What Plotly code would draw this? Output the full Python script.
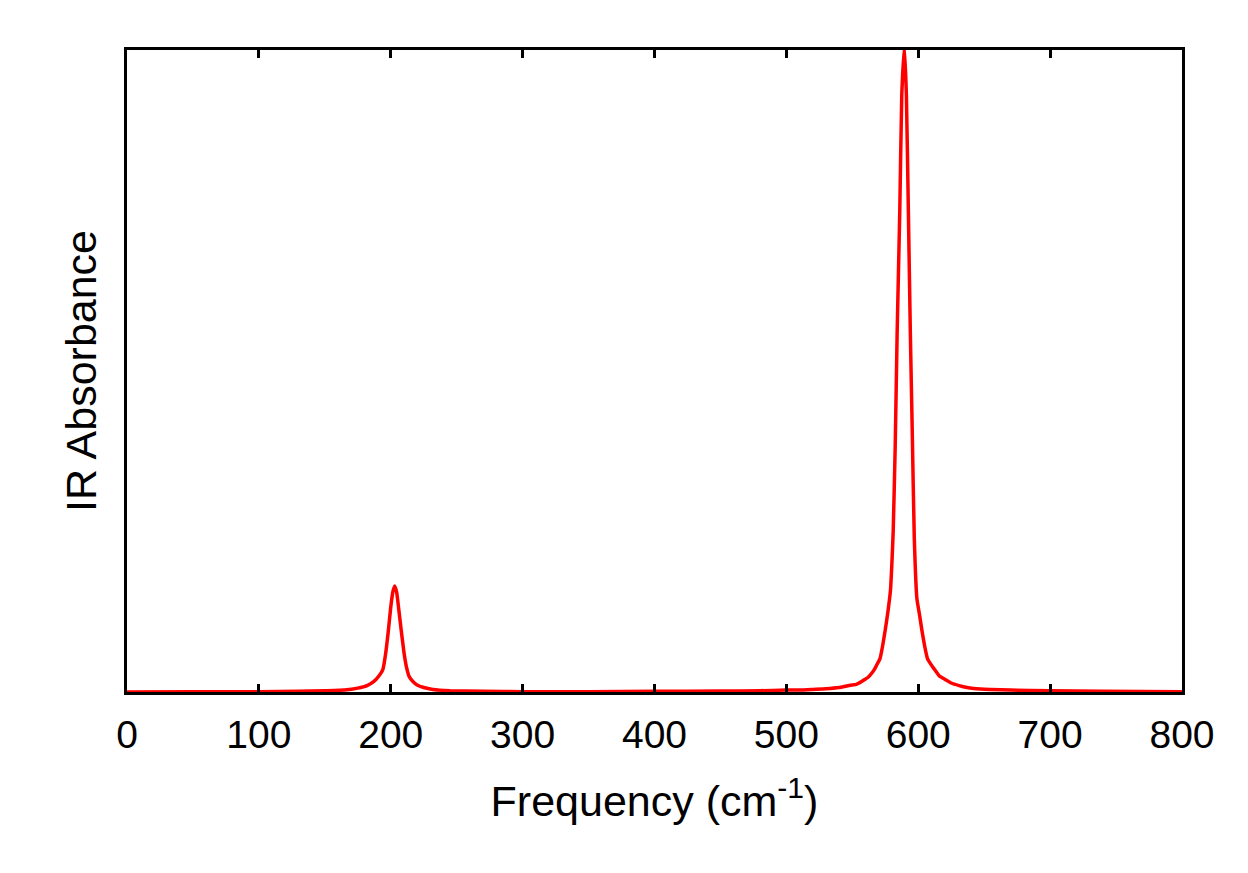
import plotly.graph_objects as go

# Frequencies (cm^-1) and IR absorbance
freq = [0, 50, 100, 130, 150, 165, 175, 182, 187, 191, 194, 196, 198, 200, 201.5, 203,
        204.5, 206, 208, 210, 212, 214, 217, 220, 225, 232, 245, 270, 300,
        350, 400, 450, 480, 500, 510, 520, 530, 540, 545, 550, 553, 556, 559, 562,
        565, 567, 569, 571, 573, 575, 577, 579, 580, 581, 582.5, 584, 586, 587.5,
        589.5, 591, 592.5, 594, 595.5, 597, 599, 601, 603, 605, 607, 609, 612,
        616, 620, 625, 631, 637, 644, 655, 670, 700, 740, 800]
absorb = [0.0, 0.0002, 0.0005, 0.001, 0.002, 0.003, 0.006, 0.010, 0.016, 0.025, 0.035, 0.058, 0.092, 0.132, 0.155, 0.165,
          0.155, 0.130, 0.095, 0.062, 0.038, 0.024, 0.016, 0.011, 0.007, 0.004, 0.002, 0.001, 0.0005,
          0.0004, 0.001, 0.0015, 0.002, 0.003, 0.003, 0.004, 0.005, 0.007, 0.009, 0.011, 0.012, 0.015, 0.019, 0.023,
          0.030, 0.036, 0.044, 0.052, 0.072, 0.097, 0.125, 0.160, 0.200, 0.250, 0.380, 0.560, 0.750, 0.930,
          1.005, 0.930, 0.750, 0.560, 0.400, 0.240, 0.145, 0.120, 0.093, 0.070, 0.052, 0.045, 0.036,
          0.025, 0.020, 0.014, 0.010, 0.007, 0.005, 0.004, 0.003, 0.002, 0.001, 0.0005]

x_ticks = [0, 100, 200, 300, 400, 500, 600, 700, 800]

font_family = "Liberation Sans, Arial, sans-serif"

fig = go.Figure()
fig.add_trace(go.Scatter(
    x=freq, y=absorb, mode="lines",
    line=dict(color="#ff0000", width=3.5, shape="spline", smoothing=0.4),
    showlegend=False,
))

fig.update_layout(
    width=1248, height=873,
    margin=dict(l=119, r=74, t=42, b=189),
    paper_bgcolor="white", plot_bgcolor="white",
    font=dict(family=font_family, color="black", size=39),
    xaxis=dict(
        range=[0, 800], tickvals=x_ticks, ticktext=[str(v) for v in x_ticks],
        showgrid=False, zeroline=False,
        showline=True, linecolor="black", linewidth=3, mirror="ticks",
        ticks="inside", ticklen=8, tickwidth=3, tickcolor="black",
        tickfont=dict(size=39), ticklabelstandoff=6,
        title=dict(text="Frequency (cm<sup>-1</sup>)", font=dict(size=43), standoff=32),
    ),
    yaxis=dict(
        range=[0, 1.0], showticklabels=False, ticks="",
        showgrid=False, zeroline=False,
        showline=True, linecolor="black", linewidth=3, mirror=True,
        title=dict(text="IR Absorbance", font=dict(size=43), standoff=14),
    ),
)

fig.write_html("out.html")
